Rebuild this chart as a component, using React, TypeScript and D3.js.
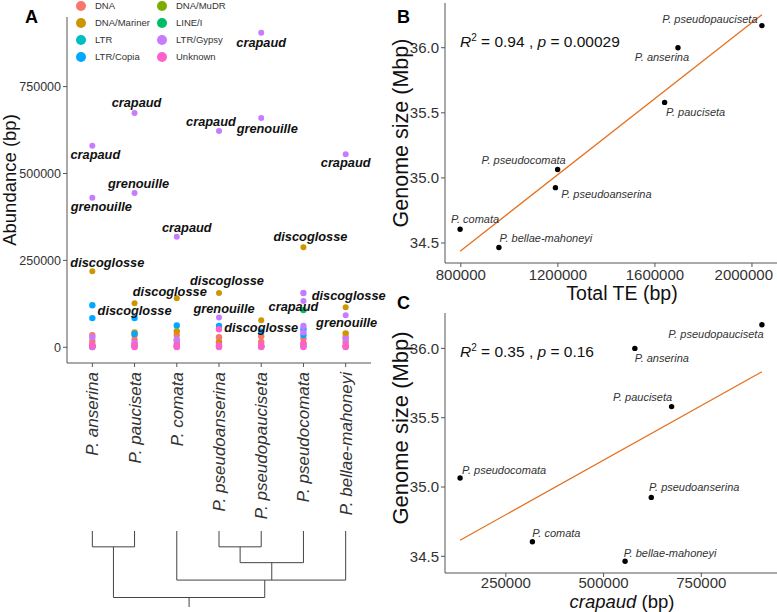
import React from 'react';
import * as d3 from 'd3';

// species in the order of panel A / dendrogram
const species = [
  'P. anserina',
  'P. pauciseta',
  'P. comata',
  'P. pseudoanserina',
  'P. pseudopauciseta',
  'P. pseudocomata',
  'P. bellae-mahoneyi',
];

// panel B / C values, same order as species
const genomeSize = [36.0, 35.58, 34.605, 34.925, 36.17, 35.065, 34.465];
const totalTE = [1695000, 1640000, 797000, 1190000, 2041000, 1199000, 957000];
const crapaud = [580000, 674000, 318000, 622000, 905000, 133000, 555000];
const grenouille = [430000, 444000, null, 86000, 660000, null, 92000];
const discoglosse = [219000, 127000, 141000, 156000, 78000, 288000, 115000];

const statB = { r2: '0.94', p: '0.00029' };
const statC = { r2: '0.35', p: '0.16' };

const teClasses = ['DNA', 'DNA/Mariner', 'DNA/MuDR', 'LINE/I', 'LTR', 'LTR/Copia', 'LTR/Gypsy', 'Unknown'];
const teColors = ['#F8766D', '#CD9600', '#7CAE00', '#00BE67', '#00BFC4', '#00A9FF', '#C77CFF', '#FF61CC'];
const legendCol1 = ['DNA', 'DNA/Mariner', 'LTR', 'LTR/Copia'];
const legendCol2 = ['DNA/MuDR', 'LINE/I', 'LTR/Gypsy', 'Unknown'];

// unlabelled TE families per species: [class, abundance]
const otherTE: [string, number][][] = [
  [['LTR/Copia', 121000], ['LTR/Copia', 84000], ['DNA', 35000], ['LTR/Gypsy', 29000], ['DNA', 18000], ['LTR/Copia', 3000], ['LTR', 1000], ['DNA', 8000], ['DNA/MuDR', 2000], ['Unknown', 6000], ['Unknown', 1000]],
  [['LTR/Copia', 84000], ['DNA/Mariner', 43000], ['LTR/Copia', 38000], ['DNA', 35000], ['DNA', 22000], ['LTR/Gypsy', 12000], ['DNA', 10000], ['LTR', 2000], ['Unknown', 6000], ['Unknown', 1000]],
  [['LTR/Copia', 63000], ['DNA/Mariner', 46000], ['DNA', 35000], ['LTR/Gypsy', 22000], ['DNA', 20000], ['DNA', 10000], ['LTR', 2000], ['Unknown', 6000], ['Unknown', 1000]],
  [['LTR/Copia', 61000], ['Unknown', 52000], ['DNA', 29000], ['DNA/Mariner', 14000], ['DNA', 15000], ['LTR', 2000], ['Unknown', 6000], ['Unknown', 1000]],
  [['LTR/Copia', 45000], ['DNA', 32000], ['DNA', 15000], ['LTR', 2000], ['DNA/MuDR', 3000], ['Unknown', 5000], ['Unknown', 500]],
  [['LTR/Gypsy', 156000], ['LINE/I', 107000], ['LTR/Gypsy', 61000], ['LTR/Copia', 52000], ['LTR/Gypsy', 43000], ['LTR/Copia', 35000], ['DNA', 25000], ['DNA', 12000], ['LTR', 3000], ['Unknown', 10000], ['Unknown', 1000]],
  [['DNA/Mariner', 40000], ['DNA', 29000], ['LTR/Gypsy', 25000], ['DNA', 15000], ['LTR', 2000], ['Unknown', 6000], ['Unknown', 1000]],
];

// label nudges (px) for the named families in panel A
const nudgeA: Record<string, [number, number][]> = {
  crapaud: [[3, 9], [2, -10], [10, -9], [-8, -10], [0, 10], [-10, 5], [0, 8]],
  grenouille: [[9, 9], [4, -9], [0, 0], [5, -9], [6, 11], [0, 0], [1, 7]],
  discoglosse: [[15, -9], [0, 7], [-7, -7], [8, -13], [0, 7], [7, -11], [3, -12]],
};
const nudgeB: [number, number][] = [[-16, 9], [31, 10], [15, -10], [51, 6], [-52, -6], [-34, -9], [47, -9]];
const nudgeC: [number, number][] = [[27, 10], [-29, -9], [24, -9], [43, -10], [-46, 9], [44, -8], [45, -8]];

// dendrogram (heights in tree units)
type TreeNode = string | { h: number; children: TreeNode[] };
const tree: TreeNode = {
  h: 4.2,
  children: [
    { h: 1, children: ['P. anserina', 'P. pauciseta'] },
    {
      h: 3.1,
      children: [
        'P. comata',
        { h: 2, children: [{ h: 1, children: ['P. pseudoanserina', 'P. pseudopauciseta'] }, 'P. pseudocomata'] },
        'P. bellae-mahoneyi',
      ],
    },
  ],
};

const FONT = '"Liberation Sans", Arial, Helvetica, sans-serif';
const AXIS = '#555';
const TXT = '#333';
const FIT = '#E4711F';

function expand(ext: [number, number], f = 0.05): [number, number] {
  const d = ext[1] - ext[0];
  return [ext[0] - d * f, ext[1] + d * f];
}

function linreg(xs: number[], ys: number[]) {
  const mx = d3.mean(xs)!;
  const my = d3.mean(ys)!;
  let sxy = 0;
  let sxx = 0;
  xs.forEach((x, i) => {
    sxy += (x - mx) * (ys[i] - my);
    sxx += (x - mx) * (x - mx);
  });
  const b = sxy / sxx;
  return (x: number) => my + b * (x - mx);
}

function colorOf(c: string) {
  return teColors[teClasses.indexOf(c)];
}

function PanelA() {
  const x = d3.scalePoint<string>().domain(species).range([67, 371]).padding(0.6);
  const allVals = [
    ...crapaud,
    ...(grenouille.filter((v) => v != null) as number[]),
    ...discoglosse,
    ...otherTE.flat().map((d) => d[1]),
  ];
  const y = d3.scaleLinear().domain(expand([0, d3.max(allVals)!])).range([363, 17]);
  const ticks = [0, 250000, 500000, 750000];

  const named: { sp: number; fam: string; cls: string; v: number }[] = [];
  species.forEach((_, i) => {
    named.push({ sp: i, fam: 'crapaud', cls: 'LTR/Gypsy', v: crapaud[i] });
    if (grenouille[i] != null) named.push({ sp: i, fam: 'grenouille', cls: 'LTR/Gypsy', v: grenouille[i] as number });
    named.push({ sp: i, fam: 'discoglosse', cls: 'DNA/Mariner', v: discoglosse[i] });
  });
  const others = otherTE
    .flatMap((list, i) => list.map(([cls, v]) => ({ sp: i, cls, v })))
    .sort((a, b) => teClasses.indexOf(a.cls) - teClasses.indexOf(b.cls));

  // dendrogram segments
  const yT = d3.scaleLinear().domain([0, 4.8]).range([531, 607]);
  const segs: [number, number, number, number][] = [];
  const walk = (n: TreeNode): { x: number; h: number } => {
    if (typeof n === 'string') return { x: x(n)!, h: 0 };
    const kids = n.children.map(walk);
    const xs = kids.map((k) => k.x);
    kids.forEach((k) => segs.push([k.x, yT(k.h), k.x, yT(n.h)]));
    segs.push([d3.min(xs)!, yT(n.h), d3.max(xs)!, yT(n.h)]);
    return { x: d3.mean(xs)!, h: n.h };
  };
  const root = walk(tree);
  segs.push([root.x, yT(root.h), root.x, yT(4.8)]);

  return (
    <g fontFamily={FONT}>
      <text x={25} y={23} fontSize={18} fontWeight="bold">A</text>
      {/* axes */}
      <line x1={67} x2={67} y1={17} y2={363} stroke={AXIS} />
      <line x1={67} x2={371} y1={363} y2={363} stroke={AXIS} />
      {ticks.map((t) => (
        <g key={t}>
          <line x1={63} x2={67} y1={y(t)} y2={y(t)} stroke={AXIS} />
          <text x={61} y={y(t)} dy="0.35em" textAnchor="end" fontSize={12.5} fill={TXT}>{t}</text>
        </g>
      ))}
      {species.map((s) => (
        <g key={s}>
          <line x1={x(s)} x2={x(s)} y1={363} y2={367} stroke={AXIS} />
          <text
            transform={`translate(${x(s)},372) rotate(-90)`}
            textAnchor="end"
            dy="0.35em"
            fontSize={17}
            fontStyle="italic"
            fill={TXT}
          >{s}</text>
        </g>
      ))}
      <text transform="translate(15.5,180) rotate(-90)" textAnchor="middle" fontSize={18.5} fill="#111">Abundance (bp)</text>
      {/* points */}
      {named.map((d, i) => (
        <circle key={'n' + i} cx={x(species[d.sp])} cy={y(d.v)} r={3} fill={colorOf(d.cls)} />
      ))}
      {others.map((d, i) => (
        <circle key={'o' + i} cx={x(species[d.sp])} cy={y(d.v)} r={3.2} fill={colorOf(d.cls)} />
      ))}
      {named.map((d, i) => {
        const [dx, dy] = nudgeA[d.fam][d.sp];
        return (
          <text
            key={'l' + i}
            x={x(species[d.sp])! + dx}
            y={y(d.v) + dy}
            dy="0.35em"
            textAnchor="middle"
            fontSize={12.8}
            fontWeight="bold"
            fontStyle="italic"
            fill="#111"
          >{d.fam}</text>
        );
      })}
      {/* legend */}
      {[legendCol1, legendCol2].map((col, ci) =>
        col.map((c, ri) => (
          <g key={c} transform={`translate(${ci === 0 ? 81 : 162},${6 + ri * 17})`}>
            <circle r={5} fill={colorOf(c)} />
            <text x={14} dy="0.35em" fontSize={9.5} fill={TXT}>{c}</text>
          </g>
        ))
      )}
      {/* dendrogram */}
      {segs.map((s, i) => (
        <line key={'t' + i} x1={s[0]} y1={s[1]} x2={s[2]} y2={s[3]} stroke="#444" strokeWidth={1} />
      ))}
    </g>
  );
}

function Scatter(props: {
  letter: string;
  letterY: number;
  top: number;
  xs: number[];
  xTicks: number[];
  tickGap: number;
  xTitle: React.ReactNode;
  xTitleY: number;
  xTitleSize: number;
  nudge: [number, number][];
  stat: { r2: string; p: string };
  yTitleSize: number;
  yTitleY: number;
}) {
  const { letter, letterY, top, xs, xTicks, tickGap, xTitle, xTitleY, xTitleSize, nudge, stat, yTitleSize, yTitleY } = props;
  const bottom = top + 260;
  const fit = linreg(xs, genomeSize);
  const xExt = d3.extent(xs) as [number, number];
  const lineY = xExt.map(fit);
  const x = d3.scaleLinear().domain(expand(xExt)).range([445, 777]);
  const y = d3
    .scaleLinear()
    .domain(expand(d3.extent([...genomeSize, ...lineY]) as [number, number]))
    .range([bottom, top]);
  const yTicks = [34.5, 35.0, 35.5, 36.0];
  return (
    <g fontFamily={FONT}>
      <text x={397} y={letterY} fontSize={18} fontWeight="bold">{letter}</text>
      <line x1={445} x2={445} y1={top} y2={bottom} stroke={AXIS} />
      <line x1={445} x2={777} y1={bottom} y2={bottom} stroke={AXIS} />
      {yTicks.map((t) => (
        <g key={t}>
          <line x1={441} x2={445} y1={y(t)} y2={y(t)} stroke={AXIS} />
          <text x={439} y={y(t)} dy="0.35em" textAnchor="end" fontSize={15} fill={TXT}>{t.toFixed(1)}</text>
        </g>
      ))}
      {xTicks.map((t) => {
        // keep the last label inside the figure edge
        const half = String(t).length * 0.556 * 15 / 2;
        const cx = Math.min(x(t), 773 - half);
        return (
          <g key={t}>
            <line x1={x(t)} x2={x(t)} y1={bottom} y2={bottom + 4} stroke={AXIS} />
            <text x={cx} y={bottom + tickGap} textAnchor="middle" fontSize={15} fill={TXT}>{t}</text>
          </g>
        );
      })}
      <text x={622} y={xTitleY} textAnchor="middle" fontSize={xTitleSize} fill="#111">{xTitle}</text>
      <text transform={`translate(407.5,${yTitleY}) rotate(-90)`} textAnchor="middle" fontSize={yTitleSize} fill="#111">Genome size (Mbp)</text>
      <line x1={x(xExt[0])} y1={y(lineY[0])} x2={x(xExt[1])} y2={y(lineY[1])} stroke={FIT} strokeWidth={1.3} />
      {xs.map((v, i) => (
        <circle key={i} cx={x(v)} cy={y(genomeSize[i])} r={2.7} fill="#000" />
      ))}
      {xs.map((v, i) => (
        <text
          key={'l' + i}
          x={x(v) + nudge[i][0]}
          y={y(genomeSize[i]) + nudge[i][1]}
          dy="0.35em"
          textAnchor="middle"
          fontSize={11}
          fontStyle="italic"
          fill={TXT}
        >{species[i]}</text>
      ))}
      <text x={460} y={top + 44} fontSize={15.5} fill="#111">
        <tspan fontStyle="italic">R</tspan>
        <tspan dy={-6} fontSize={10}>2</tspan>
        <tspan dy={6}>{` = ${stat.r2} , `}</tspan>
        <tspan fontStyle="italic">p</tspan>
        <tspan>{` = ${stat.p}`}</tspan>
      </text>
    </g>
  );
}

export default function App() {
  return (
    <svg width={777} height={612} style={{ position: 'absolute', left: 0, top: 0, background: '#fff' }}>
      <PanelA />
      <Scatter
        letter="B"
        letterY={23}
        top={3}
        xs={totalTE}
        xTicks={[800000, 1200000, 1600000, 2000000]}
        tickGap={16.5}
        xTitle="Total TE (bp)"
        xTitleY={300}
        xTitleSize={19.5}
        nudge={nudgeB}
        stat={statB}
        yTitleSize={21.5}
        yTitleY={133}
      />
      <Scatter
        letter="C"
        letterY={309}
        top={313}
        xs={crapaud}
        xTicks={[250000, 500000, 750000]}
        tickGap={15}
        xTitle={
          <>
            <tspan fontStyle="italic">crapaud</tspan>
            <tspan> (bp)</tspan>
          </>
        }
        xTitleY={608}
        xTitleSize={18.5}
        nudge={nudgeC}
        stat={statC}
        yTitleSize={22}
        yTitleY={428}
      />
    </svg>
  );
}
